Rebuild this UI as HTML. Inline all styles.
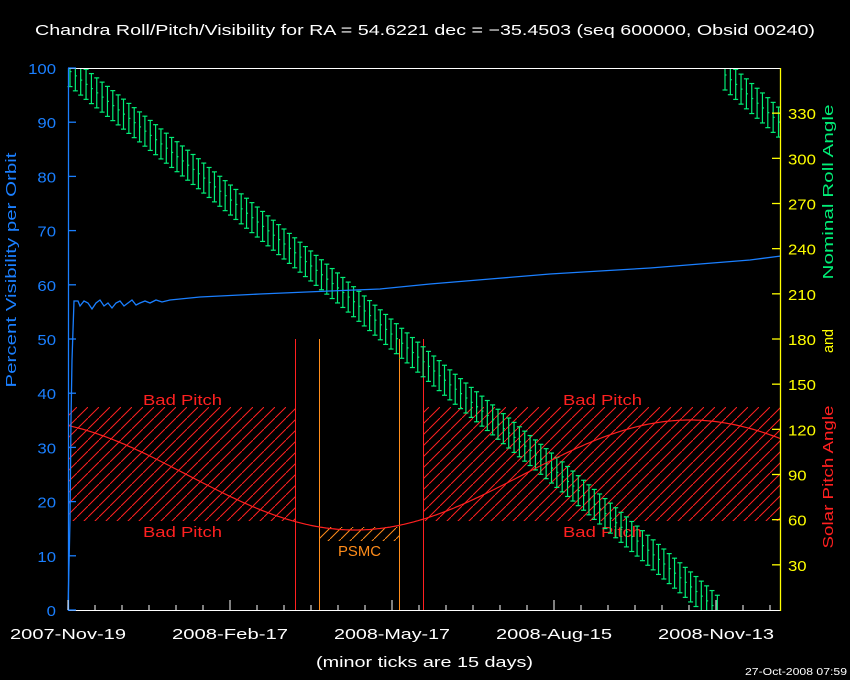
<!DOCTYPE html>
<html><head><meta charset="utf-8"><style>
html,body{margin:0;padding:0;background:#000;}
svg{display:block;font-family:"Liberation Sans",sans-serif;}
</style></head><body>
<svg id="s" width="850" height="680" viewBox="0 0 850 680" xmlns="http://www.w3.org/2000/svg">
<defs>
<pattern id="hr" patternUnits="userSpaceOnUse" width="11" height="11">
<line x1="0" y1="11" x2="11" y2="0" stroke="#ff2020" stroke-width="1"/>
</pattern>
<pattern id="ho" patternUnits="userSpaceOnUse" width="11" height="11">
<line x1="0" y1="11" x2="11" y2="0" stroke="#ff8c1a" stroke-width="1"/>
</pattern>
</defs>
<rect width="850" height="680" fill="#000"/>
<text x="35" y="35" fill="#fff" font-size="15" textLength="780" lengthAdjust="spacingAndGlyphs">Chandra Roll/Pitch/Visibility for RA = 54.6221 dec = −35.4503 (seq 600000, Obsid 00240)</text>
<rect x="68" y="407" width="227" height="114" fill="url(#hr)"/>
<rect x="423" y="407" width="358" height="114" fill="url(#hr)"/>
<rect x="319" y="527" width="80" height="14" fill="url(#ho)"/>
<text x="143" y="405" fill="#ff2020" font-size="15" textLength="79" lengthAdjust="spacingAndGlyphs">Bad Pitch</text>
<text x="143" y="537" fill="#ff2020" font-size="15" textLength="79" lengthAdjust="spacingAndGlyphs">Bad Pitch</text>
<text x="563" y="405" fill="#ff2020" font-size="15" textLength="79" lengthAdjust="spacingAndGlyphs">Bad Pitch</text>
<text x="563" y="537" fill="#ff2020" font-size="15" textLength="79" lengthAdjust="spacingAndGlyphs">Bad Pitch</text>
<text x="338" y="556" fill="#ff8c1a" font-size="15" textLength="43" lengthAdjust="spacingAndGlyphs">PSMC</text>
<line x1="295.5" y1="339" x2="295.5" y2="610" stroke="#ff2020"/>
<line x1="423.5" y1="339" x2="423.5" y2="610" stroke="#ff2020"/>
<line x1="319.5" y1="339" x2="319.5" y2="610" stroke="#ff8c1a"/>
<line x1="399.5" y1="339" x2="399.5" y2="610" stroke="#ff8c1a"/>
<g id="roll" stroke="#00ee77" stroke-width="1.2" fill="none"></g>
<polyline id="pitch" fill="none" stroke="#ff2020" stroke-width="1.2"/>
<polyline fill="none" stroke="#1a7fff" stroke-width="1.3" points="68,610 70,520 71,420 72,360 73,330 74,301 78,301 80,306 84,301 88,303 92,309 96,303 100,300 104,306 108,303 112,308 116,303 120,301 124,306 128,303 132,300 136,305 140,303 145,301 150,303 156,300 162,302 170,300 180,299 200,297 260,294 330,291 380,289 430,284 490,279 550,274 600,271 650,268 700,264 750,260 781,256"/>
<line x1="68" y1="68.5" x2="781" y2="68.5" stroke="#fff"/>
<line x1="68" y1="610.5" x2="781" y2="610.5" stroke="#fff"/>
<line x1="68.5" y1="68" x2="68.5" y2="611" stroke="#1a7fff" stroke-width="1.3"/>
<line x1="780.5" y1="68" x2="780.5" y2="611" stroke="#ffff00" stroke-width="1.3"/>
<g id="ax"></g>
<text x="16" y="270" fill="#1a7fff" font-size="15" text-anchor="middle" transform="rotate(-90 16 270)" textLength="235" lengthAdjust="spacingAndGlyphs">Percent Visibility per Orbit</text>
<text x="833" y="192" fill="#00ee77" font-size="15" text-anchor="middle" transform="rotate(-90 833 192)" textLength="175" lengthAdjust="spacingAndGlyphs">Nominal Roll Angle</text>
<text x="833" y="341" fill="#ffff00" font-size="15" text-anchor="middle" transform="rotate(-90 833 341)" textLength="24" lengthAdjust="spacingAndGlyphs">and</text>
<text x="833" y="477" fill="#ff2020" font-size="15" text-anchor="middle" transform="rotate(-90 833 477)" textLength="143" lengthAdjust="spacingAndGlyphs">Solar Pitch Angle</text>
<text x="68" y="639" fill="#fff" font-size="15" text-anchor="middle" textLength="116" lengthAdjust="spacingAndGlyphs">2007-Nov-19</text>
<text x="230" y="639" fill="#fff" font-size="15" text-anchor="middle" textLength="116" lengthAdjust="spacingAndGlyphs">2008-Feb-17</text>
<text x="392" y="639" fill="#fff" font-size="15" text-anchor="middle" textLength="116" lengthAdjust="spacingAndGlyphs">2008-May-17</text>
<text x="554" y="639" fill="#fff" font-size="15" text-anchor="middle" textLength="116" lengthAdjust="spacingAndGlyphs">2008-Aug-15</text>
<text x="716" y="639" fill="#fff" font-size="15" text-anchor="middle" textLength="116" lengthAdjust="spacingAndGlyphs">2008-Nov-13</text>
<text x="316" y="667" fill="#fff" font-size="15" textLength="217" lengthAdjust="spacingAndGlyphs">(minor ticks are 15 days)</text>
<text x="745" y="675" fill="#fff" font-size="10" textLength="102" lengthAdjust="spacingAndGlyphs">27-Oct-2008 07:59</text>
</svg>
<script>
var NS="http://www.w3.org/2000/svg";
function el(p,t,a){var e=document.createElementNS(NS,t);for(var k in a)e.setAttribute(k,a[k]);p.appendChild(e);return e;}
var ax=document.getElementById('ax');
for(var v=0;v<=100;v+=10){var y=610-v*5.42;
 el(ax,'line',{x1:68,y1:y,x2:76,y2:y,stroke:'#1a7fff','stroke-width':1.3});
 var s=String(v);
 var t=el(ax,'text',{x:56,y:y+6,fill:'#1a7fff','font-size':15,'text-anchor':'end',textLength:s.length*9.3,lengthAdjust:'spacingAndGlyphs'});t.textContent=s;}
for(var d=30;d<=330;d+=30){var y=610-d*542/360;
 el(ax,'line',{x1:772,y1:y,x2:781,y2:y,stroke:'#ffff00','stroke-width':1.3});
 var s=String(d);
 var t=el(ax,'text',{x:788,y:y+6,fill:'#ffff00','font-size':15,textLength:s.length*9.3,lengthAdjust:'spacingAndGlyphs'});t.textContent=s;}
for(var i=0;i<=26;i++){var x=68+i*27;if(x>781)break;var L=(i%6==0)?10:5;
 el(ax,'line',{x1:x,y1:610,x2:x,y2:610-L,stroke:'#fff'});}
var pts=[[68,70],[200,175],[340,290],[450,385],[560,475],[700,595]];
function yc(x){for(var i=0;i<pts.length-1;i++){if(x<=pts[i+1][0]){var a=pts[i],b=pts[i+1];return a[1]+(b[1]-a[1])*(x-a[0])/(b[0]-a[0]);}}return 595+(x-700)*0.88;}
var g=document.getElementById('roll');
function bar(x,c,h){var t=Math.max(68,c-h),b=Math.min(610,c+h);if(t>=610||b<=68)return;
 el(g,'line',{x1:x,y1:t,x2:x,y2:b});
 if(c-h>=68)el(g,'line',{x1:x-2.5,y1:t,x2:x+2.5,y2:t});
 if(c+h<=610)el(g,'line',{x1:x-2.5,y1:b,x2:x+2.5,y2:b});
 if(c>68&&c<610)el(g,'line',{x1:x,y1:c,x2:x+1.5,y2:c});}
for(var x=70;x<=718;x+=5.35){var c=yc(x);bar(x,c,15);}
for(var x=725;x<=779;x+=5.35){var c=yc(x)-542;bar(x,c,15);}
var p=[];for(var x=68;x<=781;x+=2){p.push(x+','+(475-55*Math.cos(2*Math.PI*(x-690)/670)).toFixed(1));}
document.getElementById('pitch').setAttribute('points',p.join(' '));
</script>
</body></html>
